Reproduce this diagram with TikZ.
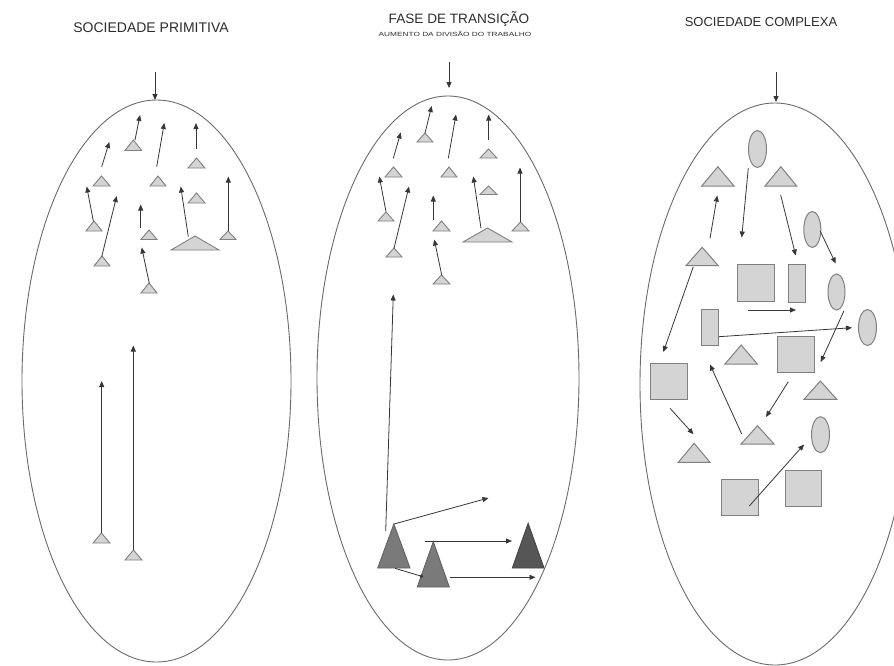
\documentclass[tikz,border=0pt]{standalone}
\usepackage{fontspec}
\setmainfont{Liberation Sans}
\usetikzlibrary{shapes.geometric,arrows.meta}
\definecolor{shapefill}{HTML}{D4D4D4}
\definecolor{shapeline}{HTML}{808080}
\definecolor{arrline}{HTML}{363636}
\definecolor{ellline}{HTML}{6A6A6A}
\definecolor{titlecol}{HTML}{2C2C2C}
\definecolor{darkA}{HTML}{7A7A7A}
\definecolor{darkB}{HTML}{565656}
\tikzset{
  ellpath/.style={draw=ellline, line width=0.9pt},
  tri/.style={draw=shapeline, fill=shapefill, line width=0.9pt, line join=miter},
  bigshape/.style={draw=shapeline, fill=shapefill, line width=1pt, inner sep=0pt},
  sq/.style={bigshape, rectangle},
  ov/.style={bigshape, ellipse},
  arr/.style={draw=arrline, line width=0.8pt, -{Triangle[length=6pt,width=5pt]}},
  toparr/.style={draw=arrline, line width=0.8pt, -{Triangle[length=6pt,width=5pt]}},
  title/.style={text=titlecol, font=\fontsize{13}{15}\selectfont, anchor=base, inner sep=0pt},
  subtitle/.style={text=titlecol, font=\fontsize{6}{7}\selectfont, anchor=base, inner sep=0pt}
}
% triangle: [style]{x1}{x2}{ytop}{ybottom}
\newcommand\tri[5][tri]{\draw[#1] (#2,#5) -- ({(#2+#3)/2},#4) -- (#3,#5) -- cycle;}
% link: [style]{name}{start}{end}
\newcommand\link[4][arr]{\coordinate (#2-s) at (#3); \coordinate (#2-e) at (#4); \draw[#1] (#2-s) -- (#2-e);}
\begin{document}
\begin{tikzpicture}[x=1pt,y=-1pt]
\useasboundingbox (0,0) rectangle (894,665);
\begin{scope}
\clip (0,0) rectangle (894,665);

% ---------- titles ----------
\node[title, font=\fontsize{14}{16}\selectfont] (t1) at (151,32.5) {SOCIEDADE PRIMITIVA};
\node[title, font=\fontsize{13.6}{16}\selectfont] (t2) at (459,23) {FASE DE TRANSIÇÃO};
\node[subtitle] (t2b) at (455,36) {\scalebox{1.38}[1]{AUMENTO DA DIVISÃO DO TRABALHO}};
\node[title] (t3) at (761,26) {SOCIEDADE COMPLEXA};

% ---------- ellipses ----------
\draw[ellpath] (156.5,381) ellipse [x radius=134.5pt, y radius=281pt];
\draw[ellpath] (448,378) ellipse [x radius=131pt, y radius=282pt];
\draw[ellpath] (775,384) ellipse [x radius=135pt, y radius=281pt];

% ---------- top arrows ----------
\link[toparr]{a1}{155,72}{155,100}
\link[toparr]{a2}{449,62}{449,88}
\link[toparr]{a3}{776,72}{776,102}

% ---------- primitive society ----------
\tri{125}{141.7}{140}{150.5}
\link{p1}{135,140}{140,115}
\tri{150}{166}{176}{186}
\link{p2}{156.7,166.7}{164.3,123}
\tri{188}{205}{158}{168}
\link{p3}{196,149}{196,123}
\tri{93}{110}{176}{186}
\link{p4}{101.7,166.7}{109.3,142}
\tri{86}{102}{221}{231}
\link{p5}{93.3,221}{86.7,186.5}
\tri{94}{110}{256}{266}
\link{p6}{101.7,256.7}{116.7,196}
\tri{141}{157}{230}{239.5}
\link{p7}{140.7,228.3}{140.7,204.5}
\tri{188}{205}{193}{203}
\tri{171}{219}{236}{250}
\link{p9}{188.3,236.5}{180.7,186.5}
\tri{220}{236}{231}{239.5}
\link{p10}{228.3,231}{228.3,176.5}
\tri{141}{157}{283}{293}
\link{p11}{149.3,283.3}{141.7,247.5}
\tri{93}{110}{533}{543}
\link{p12}{101.7,533}{101.7,381}
\tri{125}{142}{550}{560}
\link{p13}{133.3,550}{133.3,345.5}

% ---------- transition ----------
\tri{417}{433}{133}{142}
\link{q1}{425,133}{431.7,106}
\tri{385}{402}{167}{177}
\link{q2}{393.3,158.3}{400.7,132.5}
\tri{441}{457}{167}{177}
\link{q3}{448.3,158.3}{456,114.5}
\tri{480}{497}{149}{158}
\link{q4}{488.7,140}{488.7,114.5}
\tri{378}{394}{212}{221}
\link{q5}{386,211.7}{379.3,176.5}
\tri{386}{402}{248}{257}
\link{q6}{394,248.3}{409,186.5}
\tri{433}{450}{221}{231}
\link{q7}{433.3,220}{433.3,195.5}
\tri{480}{497}{186}{194.5}
\tri{463}{512}{228}{242}
\link{q9}{481,228.3}{473.3,176.5}
\tri{512}{529}{222}{231}
\link{q10}{520,221.7}{520,167.5}
\tri{433}{450}{275}{284}
\link{q11}{441.7,275}{434.3,239.5}

\tri[tri, fill=darkA, draw=darkA!80!black]{377.7}{410}{524}{568}
\tri[tri, fill=darkA, draw=darkA!80!black]{417.3}{449.3}{541.7}{587}
\tri[tri, fill=darkB, draw=darkB!80!black]{512.3}{544}{523.3}{568}
\link{q12}{385.7,531}{393.3,294.5}
\link{q13}{394,524}{488.5,498}
\link{q14}{425,541}{512,541}
\link{q15}{450,577.3}{535.5,577.3}
\link[arr, -{Circle[length=3.5pt]}]{q16}{395,568.3}{423,576.7}

% ---------- complex society ----------
\node[ov, minimum width=18pt, minimum height=37pt] (o1) at (757.5,149) {};
\node[ov, minimum width=17pt, minimum height=36pt] (o2) at (812.3,229.5) {};
\node[ov, minimum width=17pt, minimum height=36pt] (o3) at (836.5,292) {};
\node[ov, minimum width=18pt, minimum height=36pt] (o4) at (867.5,327.5) {};
\node[ov, minimum width=18pt, minimum height=36pt] (o5) at (820.5,434.7) {};

\tri[tri, line width=1pt]{701.7}{734}{166.7}{186}
\tri[tri, line width=1pt]{765}{796.7}{166.7}{186}
\tri[tri, line width=1pt]{686}{718.3}{247.3}{265.7}
\tri[tri, line width=1pt]{725}{757.3}{345}{364}
\tri[tri, line width=1pt]{804}{836.7}{381}{399.3}
\tri[tri, line width=1pt]{741}{774}{425.7}{444}
\tri[tri, line width=1pt]{678.3}{710}{443.3}{462.3}

\node[sq, minimum width=36.6pt, minimum height=37.7pt] (s1) at (756,282.9) {};
\node[sq, minimum width=36.7pt, minimum height=36pt] (s2) at (795.7,354.7) {};
\node[sq, minimum width=36.6pt, minimum height=36pt] (s3) at (669,381.3) {};
\node[sq, minimum width=36.6pt, minimum height=35.7pt] (s4) at (740,497.2) {};
\node[sq, minimum width=36.7pt, minimum height=36.7pt] (s5) at (803.4,488.4) {};
\node[sq, minimum width=16.7pt, minimum height=38pt] (r1) at (796.7,283) {};
\node[sq, minimum width=16.6pt, minimum height=36.4pt] (r2) at (710,327.5) {};

\link{c1}{710,238.3}{717.3,195.5}
\link{c2}{748.3,168}{741.7,237.5}
\link{c3}{780.7,195}{795.7,255.5}
\link{c4}{820,230.7}{835.7,263.5}
\link{c5}{693.3,266.7}{663.3,352}
\link{c6}{748.3,310}{796,310}
\coordinate (c7-e) at (852,327.7);
\draw[arr] (r2.east |- 0,336.7) -- (c7-e);
\link{c8}{844,310.7}{820.7,362}
\link{c9}{741.7,434}{710,364.5}
\link{c10}{788.3,381.7}{766,417}
\link{c11}{670,408.3}{693.5,434.2}
\link{c12}{749.3,506}{804,444.5}
\end{scope}
\end{tikzpicture}
\end{document}
